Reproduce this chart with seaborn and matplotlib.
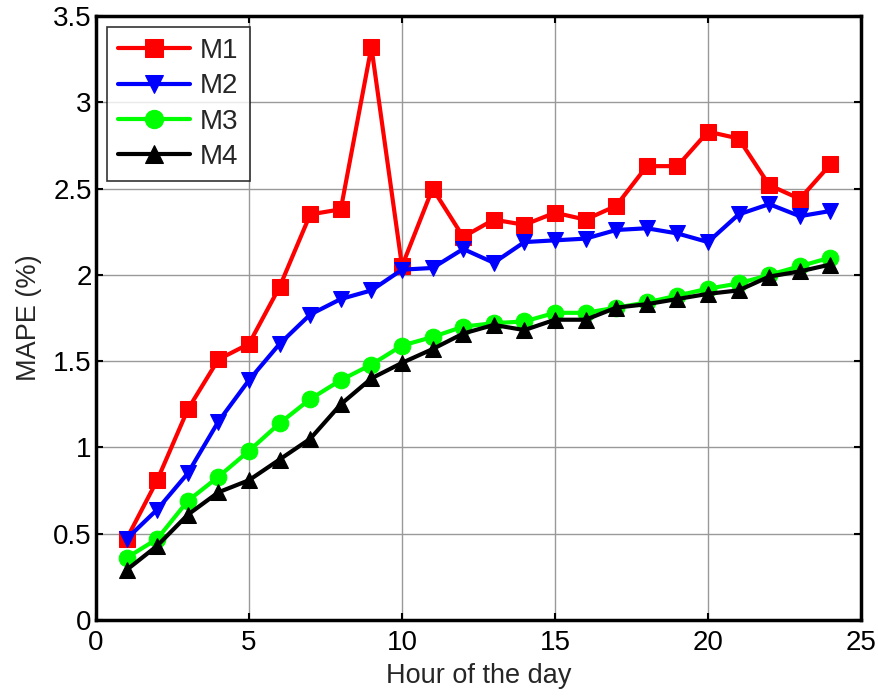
#! /usr/bin/env python3
import seaborn as sns
import pandas as pd
import matplotlib.pyplot as plt

# Hours and MAPE values
HOURS = list(range(1, 25))
M1 = [0.47, 0.81, 1.22, 1.51, 1.60, 1.93, 2.35, 2.38, 3.32, 2.05, 2.50, 2.22,
      2.32, 2.29, 2.36, 2.32, 2.40, 2.63, 2.63, 2.83, 2.79, 2.52, 2.44, 2.64]
M2 = [0.47, 0.64, 0.85, 1.15, 1.39, 1.60, 1.77, 1.86, 1.91, 2.03, 2.04, 2.15,
      2.07, 2.19, 2.20, 2.21, 2.26, 2.27, 2.24, 2.19, 2.35, 2.41, 2.34, 2.37]
M3 = [0.36, 0.47, 0.69, 0.83, 0.98, 1.14, 1.28, 1.39, 1.48, 1.59, 1.64, 1.70,
      1.72, 1.73, 1.78, 1.78, 1.81, 1.84, 1.88, 1.92, 1.95, 2.00, 2.05, 2.10]
M4 = [0.29, 0.43, 0.61, 0.74, 0.81, 0.93, 1.05, 1.25, 1.40, 1.49, 1.57, 1.66,
      1.71, 1.68, 1.74, 1.74, 1.81, 1.83, 1.86, 1.89, 1.91, 1.99, 2.02, 2.06]

SERIES = ['M1', 'M2', 'M3', 'M4']
COLOURS = {'M1': '#ff0000', 'M2': '#0000ff', 'M3': '#00ff00', 'M4': '#000000'}
MARKERS = {'M1': 's', 'M2': 'v', 'M3': 'o', 'M4': '^'}


def main():
    sns.set_theme(style='white')
    plt.rcParams['font.family'] = ['Liberation Sans', 'DejaVu Sans']

    df = pd.DataFrame({'hour': HOURS, 'M1': M1, 'M2': M2, 'M3': M3, 'M4': M4})
    df = df.melt(id_vars='hour', var_name='model', value_name='mape')

    f = plt.figure(figsize=(8.79, 6.97), dpi=100)
    ax = f.add_axes([96 / 879, 1 - 620 / 697, 765 / 879, 604 / 697])

    for name in SERIES:
        sub = df[df['model'] == name]
        c = COLOURS[name]
        sns.lineplot(data=sub, x='hour', y='mape', ax=ax, color=c, label=name,
                     marker=MARKERS[name], markersize=12, linewidth=3,
                     markeredgecolor=c, markerfacecolor=c, zorder=3)

    ax.set_xlim(0, 25)
    ax.set_ylim(0, 3.5)
    ax.set_xticks([0, 5, 10, 15, 20, 25])
    ax.set_yticks([0, 0.5, 1, 1.5, 2, 2.5, 3, 3.5])
    ax.set_yticklabels(['0', '0.5', '1', '1.5', '2', '2.5', '3', '3.5'])
    ax.grid(True, color='#999999', linewidth=1.0, linestyle='-')
    ax.set_axisbelow(True)
    ax.tick_params(direction='in', length=5, width=1.5, labelsize=20,
                   top=True, right=True, bottom=True, left=True, pad=3,
                   colors='black')
    ax.tick_params(axis='x', pad=7)
    for s in ax.spines.values():
        s.set_color('black')
        s.set_linewidth(2.5)
    ax.set_xlabel('Hour of the day', fontsize=19.5, labelpad=5)
    ax.set_ylabel('MAPE (%)', fontsize=19.5, labelpad=8)

    leg = ax.legend(loc='upper left', fontsize=20, frameon=True, fancybox=False,
                    borderaxespad=0.4, handlelength=2.6, labelspacing=0.33,
                    borderpad=0.4, handletextpad=0.35, markerscale=1.1)
    leg.get_frame().set_edgecolor('black')
    leg.get_frame().set_linewidth(1.2)

    f.savefig('out.png', dpi=100)


if __name__ == "__main__":
    main()
